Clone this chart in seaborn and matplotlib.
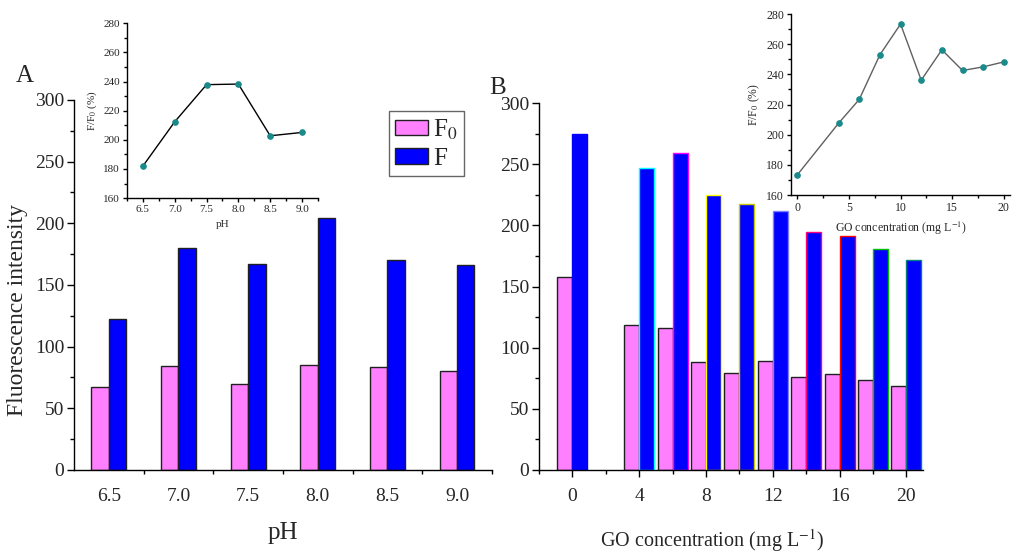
"""
Fluorescence intensity vs pH and GO concentration, with F/F0 insets
"""
import matplotlib
matplotlib.use('Agg')
import matplotlib.pyplot as plt
from matplotlib.ticker import MultipleLocator, FixedLocator
import seaborn as sns
import pandas as pd

# panel A data
ph_labels = ['6.5', '7.0', '7.5', '8.0', '8.5', '9.0']
ph_f0 = [67, 84.6, 70, 85.4, 83.8, 80.5]
ph_f = [122.7, 180, 167, 204, 170, 166]
ph_ratio = [182, 212.4, 237.9, 238.3, 202.8, 205.1]

# panel B data
go_conc = [0, 4, 6, 8, 10, 12, 14, 16, 18, 20]
go_f0 = [158, 118.6, 116, 88.6, 79.6, 89.2, 75.8, 78.8, 73.6, 69]
go_f = [274.4, 246.8, 259, 224.7, 217.9, 211.4, 194.2, 191.2, 180.3, 171.5]
go_ratio = [173.3, 207.6, 223.4, 253, 273.4, 236.2, 256.3, 242.6, 245, 248.3]

series_names = ['F$_0$', 'F']
palette = {'F$_0$': '#ff80ff', 'F': '#0000ff'}
f_edges = ['#0000ff', '#00ffff', '#ff00ff', '#ffff00', '#c8c800',
           '#8080ff', '#ff0080', '#ff0000', '#00c000', '#008080']

sns.set_theme(style='white')
plt.rcParams['font.family'] = ['Liberation Serif', 'DejaVu Serif']
plt.rcParams['mathtext.fontset'] = 'stix'


def origin_axes(ax, size):
    for side in ['top', 'right']:
        ax.spines[side].set_visible(False)
    for side in ['left', 'bottom']:
        ax.spines[side].set_color('black')
        ax.spines[side].set_linewidth(1.0)
    ax.tick_params(which='major', direction='out', length=5, width=1,
                   color='black', labelsize=size, pad=2,
                   bottom=True, left=True)
    ax.tick_params(which='minor', direction='out', length=3, width=1,
                   color='black', bottom=True, left=True)


fig = plt.figure(figsize=(10.24, 5.55), dpi=100)

# ---- panel A ----
ax_a = fig.add_axes([0.0723, 0.1532, 0.408, 0.6667])
df_a = pd.DataFrame({
    'pH': ph_labels * 2,
    'value': ph_f0 + ph_f,
    'series': [series_names[0]] * len(ph_labels) + [series_names[1]] * len(ph_labels),
})
sns.barplot(data=df_a, x='pH', y='value', hue='series', palette=palette,
            width=0.5, edgecolor='#202020', linewidth=1.0, ax=ax_a,
            saturation=1, legend=True)
ax_a.set_xlim(-0.5, len(ph_labels) - 0.5)
ax_a.set_ylim(0, 300)
origin_axes(ax_a, 14)
ax_a.yaxis.set_major_locator(MultipleLocator(50))
ax_a.yaxis.set_minor_locator(MultipleLocator(25))
ax_a.xaxis.set_minor_locator(FixedLocator([i + 0.5 for i in range(len(ph_labels))]))
ax_a.tick_params(axis='x', which='major', length=0, pad=13)
ax_a.set_xlabel('pH', fontsize=18, labelpad=12)
ax_a.set_ylabel('Fluorescence intensity', fontsize=17)
ax_a.yaxis.set_label_coords(-0.11, 0.432)
leg = ax_a.legend(loc='upper left', bbox_to_anchor=(0.754, 0.97), fontsize=18,
                  frameon=True, fancybox=False, edgecolor='#404040',
                  handlelength=1.3, handleheight=0.6, borderpad=0.25,
                  labelspacing=0.25, handletextpad=0.2, borderaxespad=0)
leg.get_frame().set_linewidth(1.0)
fig.text(0.015, 0.852, 'A', fontsize=18)

# ---- panel B ----
ax_b = fig.add_axes([0.5264, 0.1532, 0.375, 0.661])
df_b = pd.DataFrame({
    'conc': go_conc * 2,
    'value': go_f0 + go_f,
    'series': [series_names[0]] * len(go_conc) + [series_names[1]] * len(go_conc),
})
sns.barplot(data=df_b, x='conc', y='value', hue='series', palette=palette,
            native_scale=True, width=0.9, edgecolor='#202020', linewidth=1.0,
            ax=ax_b, saturation=1, legend=False)
for patch, ec in zip(ax_b.containers[1], f_edges):
    patch.set_edgecolor(ec)
ax_b.set_xlim(-2, 21)
ax_b.set_ylim(0, 300)
origin_axes(ax_b, 14)
ax_b.xaxis.set_major_locator(MultipleLocator(4))
ax_b.xaxis.set_minor_locator(MultipleLocator(2))
ax_b.yaxis.set_major_locator(MultipleLocator(50))
ax_b.yaxis.set_minor_locator(MultipleLocator(25))
ax_b.tick_params(axis='x', which='major', pad=8)
ax_b.set_xlabel('GO concentration (mg L$^{-1}$)', fontsize=14.5)
ax_b.xaxis.set_label_coords(0.45, -0.155)
ax_b.set_ylabel('')
fig.text(0.478, 0.83, 'B', fontsize=18)

# ---- inset A ----
in_a = fig.add_axes([0.124, 0.643, 0.1865, 0.315])
sns.lineplot(x=[float(v) for v in ph_labels], y=ph_ratio, color='black',
             linewidth=1.0, marker='o', markersize=4, markerfacecolor='#1a8a8a',
             markeredgecolor='#1a8a8a', ax=in_a)
in_a.set_xlim(6.25, 9.25)
in_a.set_ylim(160, 280)
origin_axes(in_a, 8)
in_a.xaxis.set_major_locator(MultipleLocator(0.5))
in_a.xaxis.set_minor_locator(MultipleLocator(0.25))
in_a.yaxis.set_major_locator(MultipleLocator(20))
in_a.yaxis.set_minor_locator(MultipleLocator(10))
in_a.tick_params(which='major', length=3)
in_a.tick_params(which='minor', length=2)
in_a.set_xticklabels([f'{v:.1f}' for v in in_a.get_xticks()])
in_a.set_xlabel('pH', fontsize=8, labelpad=4)
in_a.set_ylabel('F/F$_0$ (%)', fontsize=8, labelpad=3)
in_a.patch.set_alpha(0)

# ---- inset B ----
in_b = fig.add_axes([0.7725, 0.6486, 0.2139, 0.326])
sns.lineplot(x=go_conc, y=go_ratio, color='#606060', linewidth=1.0,
             marker='o', markersize=4, markerfacecolor='#1a8a8a',
             markeredgecolor='#1a8a8a', ax=in_b)
in_b.set_xlim(-0.6, 20.6)
in_b.set_ylim(160, 280)
origin_axes(in_b, 8.5)
in_b.xaxis.set_major_locator(MultipleLocator(5))
in_b.xaxis.set_minor_locator(MultipleLocator(2.5))
in_b.yaxis.set_major_locator(MultipleLocator(20))
in_b.yaxis.set_minor_locator(MultipleLocator(10))
in_b.tick_params(which='major', length=3)
in_b.tick_params(which='minor', length=2)
in_b.set_xlabel('GO concentration (mg L$^{-1}$)', fontsize=8.5, labelpad=4)
in_b.set_ylabel('F/F$_0$ (%)', fontsize=8.5, labelpad=3)
in_b.patch.set_alpha(0)

fig.savefig('out.png', dpi=100)
plt.close(fig)
